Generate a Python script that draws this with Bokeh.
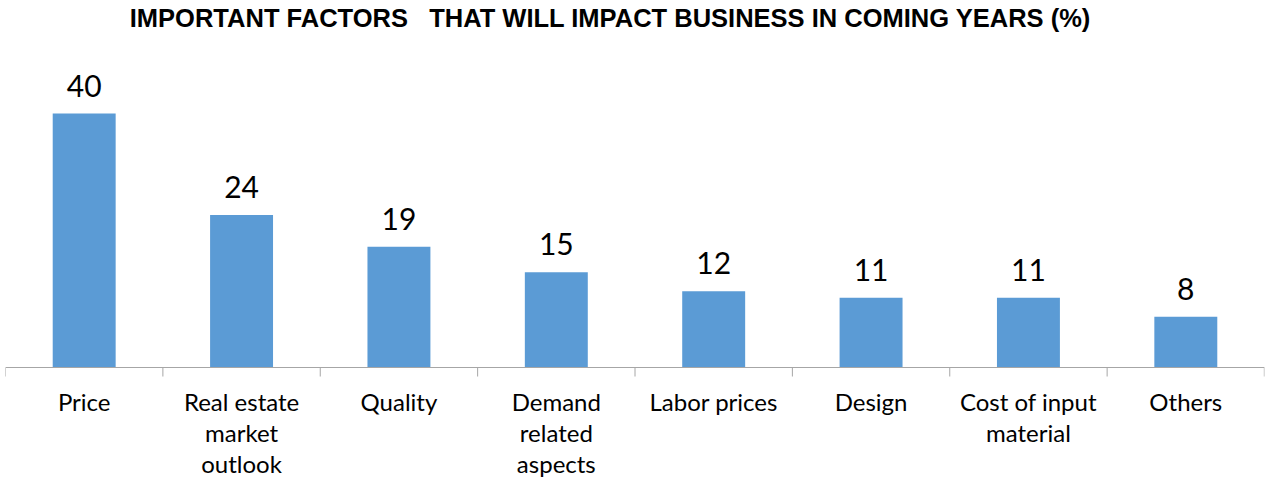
from bokeh.plotting import figure
from bokeh.models import ColumnDataSource, FactorRange, Range1d, Span, Label
from bokeh.transform import dodge
from bokeh.core.properties import value
from bokeh.embed import file_html
from bokeh.resources import INLINE

# ---- data ----
categories = ["Price", "Real estate market outlook", "Quality", "Demand related aspects",
              "Labor prices", "Design", "Cost of input material", "Others"]
label_lines = [["Price"], ["Real estate", "market", "outlook"], ["Quality"],
               ["Demand", "related", "aspects"], ["Labor prices"], ["Design"],
               ["Cost of input", "material"], ["Others"]]
values = [40, 24, 19, 15, 12, 11, 11, 8]
title_text = "IMPORTANT FACTORS \u00a0 THAT WILL IMPACT BUSINESS IN COMING YEARS (%)"

# ---- layout constants ----
W, H = 1266, 480
AXIS_Y = 367          # px from top of figure where the baseline sits
PX_PER_UNIT = 6.35
BAR_COLOR = "#5B9BD5"
AXIS_COLOR = "#A6A6A6"

p = figure(width=W, height=H, output_backend="svg", toolbar_location=None,
           x_range=FactorRange(factors=categories, range_padding=0),
           y_range=Range1d(-(H - AXIS_Y) / PX_PER_UNIT, AXIS_Y / PX_PER_UNIT),
           x_axis_location=None, y_axis_location=None,
           min_border=0, min_border_left=5, min_border_right=2,
           min_border_top=0, min_border_bottom=0)
p.outline_line_color = None
p.grid.visible = False
p.background_fill_color = "white"
p.border_fill_color = "white"

src = ColumnDataSource(dict(cat=categories, val=values, txt=[str(v) for v in values]))
p.vbar(x="cat", top="val", width=0.4, source=src, fill_color=BAR_COLOR, line_color=None)

# value labels
p.text(x="cat", y="val", text="txt", source=src, y_offset=-28,
       text_align="center", text_baseline="alphabetic",
       text_font=value("Lato"), text_font_size="30px", text_color="#000000")

# baseline axis line
p.add_layout(Span(location=0, dimension="width", line_color=AXIS_COLOR, line_width=1))

# tick marks at category boundaries
tick_len = 9 / PX_PER_UNIT
tsrc = ColumnDataSource(dict(cat=categories, y0=[0] * len(categories),
                             y1=[-tick_len] * len(categories)))
p.segment(x0=dodge("cat", -0.5, range=p.x_range), y0="y0",
          x1=dodge("cat", -0.5, range=p.x_range), y1="y1",
          source=tsrc, line_color=AXIS_COLOR, line_width=1)
lsrc = ColumnDataSource(dict(cat=[categories[-1]], y0=[0], y1=[-tick_len]))
p.segment(x0=dodge("cat", 0.499, range=p.x_range), y0="y0",
          x1=dodge("cat", 0.499, range=p.x_range), y1="y1",
          source=lsrc, line_color=AXIS_COLOR, line_width=1)

# category labels (multi-line)
lc, lt, lo = [], [], []
for c, lines in zip(categories, label_lines):
    for k, ln in enumerate(lines):
        lc.append(c)
        lt.append(ln)
        lo.append(34 + 31 * k)
csrc = ColumnDataSource(dict(cat=lc, txt=lt, y=[0] * len(lc), off=lo))
p.text(x="cat", y="y", text="txt", y_offset="off", source=csrc,
       text_align="center", text_baseline="alphabetic",
       text_font=value("Lato"), text_font_size="24px", text_color="#000000")

# title
p.add_layout(Label(x=605, y=H - 17, x_units="screen", y_units="screen", text=title_text,
                   text_align="center", text_baseline="alphabetic",
                   text_font="Liberation Sans", text_font_style="bold",
                   text_font_size="25.5px", text_color="#000000"))

open("out.html", "w").write(file_html(p, INLINE))
